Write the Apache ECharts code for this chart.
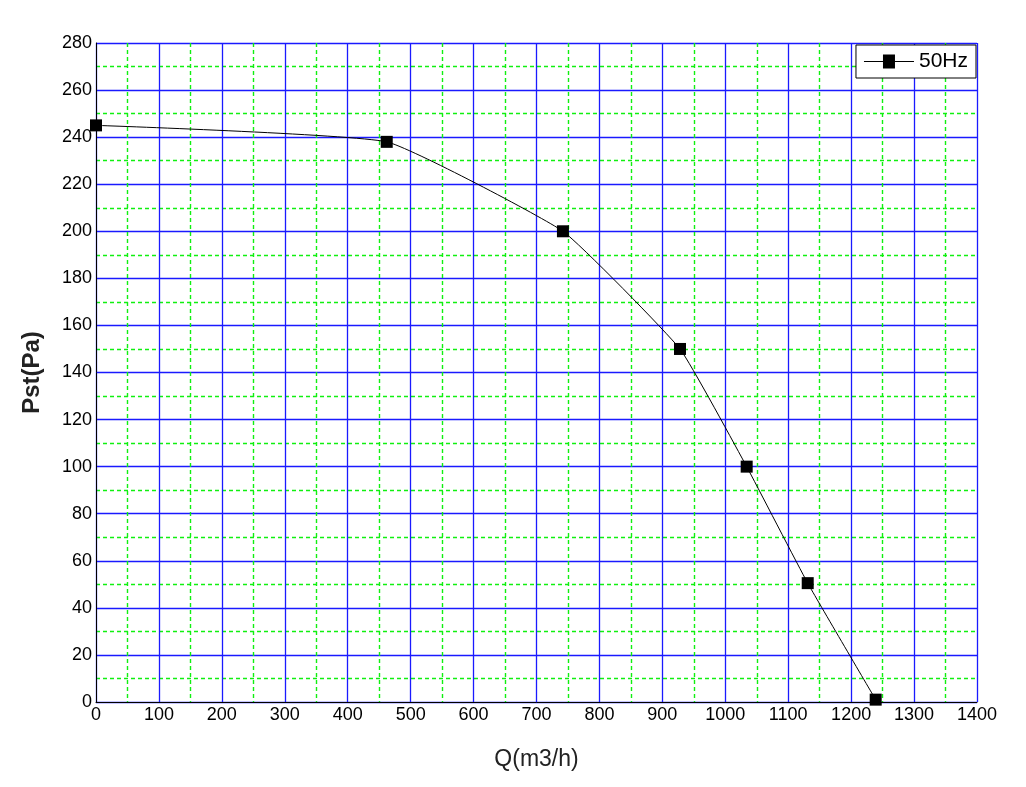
<!DOCTYPE html>
<html>
<head>
<meta charset="utf-8" />
<script src="https://cdn.jsdelivr.net/npm/echarts@6/dist/echarts.min.js"></script>
<style>html,body{margin:0;padding:0;background:#fff}#chart{width:1026px;height:787px}</style>
</head>
<body>
<div id="chart"></div>
<script>
var flow = [0, 462, 742, 928, 1034, 1131, 1239];
var pressure = [245, 238, 200, 150, 100, 50.5, 1];
var seriesName = '50Hz';

var points = flow.map(function (q, i) { return [q, pressure[i]]; });
var chart = echarts.init(document.getElementById('chart'));
var font = 'Liberation Sans, Arial, sans-serif';
var minorLine = { show: true, lineStyle: { color: '#10f010', width: 1.4, type: [4, 3], opacity: 1 } };
chart.setOption({
	animation: false,
	grid: { left: 96, right: 49, top: 43, bottom: 85 },
	legend: {
		right: 50, top: 45, orient: 'horizontal',
		backgroundColor: '#fff', borderColor: '#000', borderWidth: 1,
		padding: [6, 8], itemWidth: 50, itemHeight: 14,
		textStyle: { fontSize: 21, color: '#000', fontFamily: font },
		data: [{ name: seriesName, icon: 'path://M0,6.5L19,6.5L19,0L31,0L31,6.5L50,6.5L50,7.5L31,7.5L31,14L19,14L19,7.5L0,7.5Z' }]
	},
	xAxis: {
		type: 'value', min: 0, max: 1400, interval: 100,
		name: 'Q(m3/h)', nameLocation: 'middle', nameGap: 46,
		nameTextStyle: { fontSize: 23, color: '#222', fontFamily: font },
		axisLine: { lineStyle: { color: '#000' } },
		axisTick: { show: false },
		axisLabel: { fontSize: 18, color: '#000', fontFamily: font, margin: 4, formatter: function (v) { return String(v); } },
		splitLine: { lineStyle: { color: '#1a1aff', width: 1.3 } },
		minorTick: { show: false, splitNumber: 2 },
		minorSplitLine: minorLine
	},
	yAxis: {
		type: 'value', min: 0, max: 280, interval: 20,
		name: 'Pst(Pa)', nameLocation: 'middle', nameGap: 52,
		nameTextStyle: { fontSize: 24, fontWeight: 'bold', color: '#222', fontFamily: font },
		axisLine: { show: true, lineStyle: { color: '#000' } },
		axisTick: { show: false },
		axisLabel: { fontSize: 18, color: '#000', fontFamily: font, margin: 4 },
		splitLine: { lineStyle: { color: '#1a1aff', width: 1.3 } },
		minorTick: { show: false, splitNumber: 2 },
		minorSplitLine: minorLine
	},
	series: [{
		name: seriesName, type: 'line', data: points, smooth: 0.12,
		symbol: 'rect', symbolSize: 12,
		lineStyle: { color: '#000', width: 1 },
		itemStyle: { color: '#000' }
	}]
});
</script>
</body>
</html>
